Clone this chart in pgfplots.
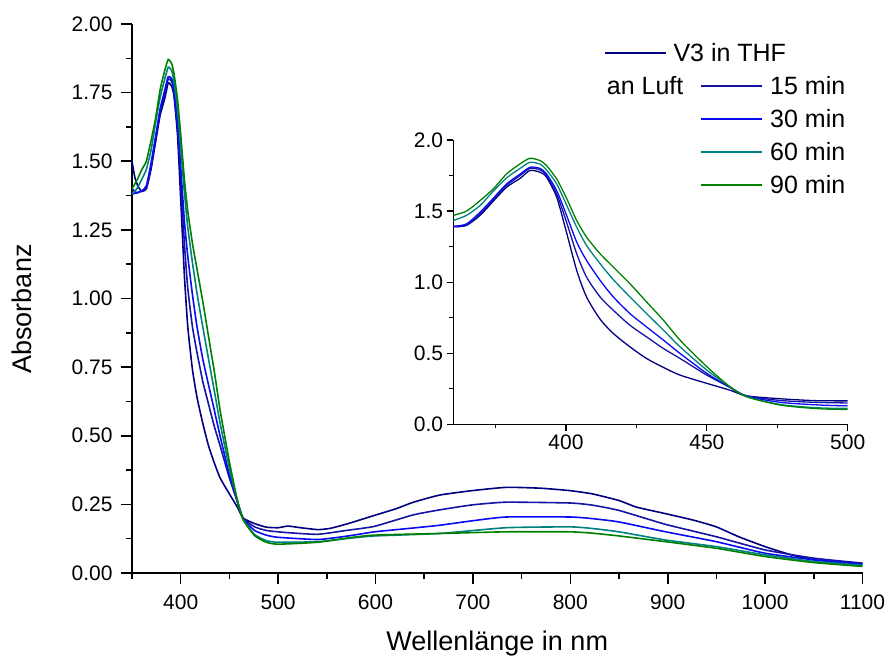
\documentclass[border=0pt]{standalone}
\usepackage{fontspec}
\setmainfont{Liberation Sans}
\usepackage{pgfplots}
\pgfplotsset{compat=1.18}
\usepackage{pgfplotstable}

\definecolor{cV}{RGB}{0,0,128}
\definecolor{cA}{RGB}{20,20,165}
\definecolor{cB}{RGB}{10,10,245}
\definecolor{cC}{RGB}{0,128,128}
\definecolor{cD}{RGB}{0,128,0}

\pgfplotstableread{
nm A
350 1.50
353 1.44
356 1.41
360 1.39
364.7 1.40
369.5 1.47
374.2 1.57
378.9 1.668
383.7 1.73
387.2 1.785
390.8 1.773
393.1 1.738
396.7 1.598
400 1.364
403.8 1.083
407.3 0.896
412.1 0.740
416.8 0.639
422.7 0.545
428.6 0.463
434.6 0.400
440.5 0.346
450 0.288
458.2 0.24
464.1 0.20
475.9 0.18
487.8 0.167
500 0.165
510 0.171
523 0.165
541 0.158
554 0.163
572 0.18
599 0.21
621 0.234
639 0.258
666 0.284
699 0.30
734 0.312
769 0.309
800 0.30
823 0.288
850 0.264
868 0.24
898 0.216
927 0.192
950 0.168
973 0.132
1000 0.096
1027 0.066
1050 0.048
1075 0.04
1100 0.034
}\tV

\pgfplotstableread{
nm A
350 1.40
355 1.385
360 1.392
364.7 1.40
369.5 1.48
374.2 1.58
378.9 1.68
383.7 1.75
387.2 1.80
390.8 1.79
393.1 1.75
396.7 1.62
400 1.434
403.8 1.20
407.3 1.036
412.1 0.896
416.8 0.802
422.7 0.697
428.6 0.615
434.6 0.533
440.5 0.463
450 0.346
458.2 0.26
464.1 0.20
475.9 0.168
487.8 0.155
500 0.15
514 0.146
541 0.141
572 0.156
599 0.17
639 0.212
666 0.23
699 0.248
734 0.258
800 0.255
823 0.247
850 0.228
898 0.177
950 0.132
1000 0.084
1050 0.054
1100 0.036
}\tA

\pgfplotstableread{
nm A
350 1.38
355 1.385
360 1.392
364.7 1.41
369.5 1.492
374.2 1.59
378.9 1.691
383.7 1.76
387.2 1.808
390.8 1.80
393.1 1.761
396.7 1.644
400 1.481
403.8 1.282
407.3 1.153
412.1 1.013
416.8 0.896
422.7 0.779
428.6 0.685
434.6 0.592
440.5 0.498
450 0.358
458.2 0.26
464.1 0.198
475.9 0.155
487.8 0.138
500 0.13
541 0.122
572 0.135
599 0.15
639 0.164
666 0.174
699 0.19
734 0.204
800 0.204
823 0.198
850 0.186
898 0.15
950 0.114
1000 0.072
1050 0.048
1100 0.032
}\tB

\pgfplotstableread{
nm A
350 1.38
355 1.40
360 1.434
364.7 1.47
369.5 1.539
374.2 1.64
378.9 1.733
383.7 1.80
387.2 1.843
390.8 1.83
393.1 1.789
396.7 1.691
400 1.551
403.8 1.387
407.3 1.258
412.1 1.13
416.8 1.018
422.7 0.896
428.6 0.779
434.6 0.662
440.5 0.545
450 0.381
458.2 0.264
464.1 0.195
475.9 0.14
487.8 0.118
500 0.112
541 0.114
572 0.126
599 0.135
666 0.144
734 0.165
800 0.168
823 0.162
850 0.15
898 0.12
950 0.096
1000 0.066
1050 0.042
1100 0.028
}\tC

\pgfplotstableread{
nm A
350 1.40
355 1.43
360 1.469
364.7 1.50
369.5 1.574
374.2 1.656
378.9 1.761
383.7 1.832
387.2 1.871
390.8 1.855
393.1 1.82
396.7 1.726
400 1.598
403.8 1.434
407.3 1.317
412.1 1.20
416.8 1.106
422.7 0.989
428.6 0.861
434.6 0.732
440.5 0.592
450 0.405
458.2 0.264
464.1 0.194
475.9 0.136
487.8 0.112
500 0.105
541 0.112
572 0.128
599 0.138
666 0.144
734 0.15
800 0.15
823 0.145
850 0.135
898 0.114
950 0.09
1000 0.06
1050 0.038
1100 0.024
}\tD

\begin{document}
\begin{tikzpicture}
\useasboundingbox (-132pt,-84pt) rectangle (755pt,573pt);
\begin{axis}[
  at={(0pt,0pt)}, anchor=south west,
  scale only axis, width=730.5pt, height=549pt,
  xmin=350, xmax=1100, ymin=0, ymax=2,
  axis x line*=bottom, axis y line*=left,
  axis line style={line width=1.6pt},
  tick style={line width=1.6pt, black},
  tick align=outside,
  major tick length=11pt, minor tick length=6pt,
  xtick={400,500,600,700,800,900,1000,1100},
  minor xtick={350,450,550,650,750,850,950,1050},
  ytick={0,0.25,0.5,0.75,1,1.25,1.5,1.75,2},
  minor ytick={0.125,0.375,0.625,0.875,1.125,1.375,1.625,1.875},
  /pgf/number format/assume math mode=true,
  tick label style={font=\fontsize{21}{25}\selectfont},
  yticklabel style={xshift=-5pt, /pgf/number format/.cd, fixed, fixed zerofill, precision=2},
  xticklabel style={yshift=-7pt, /pgf/number format/1000 sep={}},
  every axis plot/.append style={line width=1.6pt, smooth, tension=0.3},
]
\addplot[cV, no marks] table[x=nm,y=A]{\tV};
\addplot[cA, no marks] table[x=nm,y=A]{\tA};
\addplot[cB, no marks] table[x=nm,y=A]{\tB};
\addplot[cC, no marks] table[x=nm,y=A]{\tC};
\addplot[cD, no marks] table[x=nm,y=A]{\tD};
\end{axis}

\begin{axis}[
  at={(321.3pt,148.7pt)}, anchor=south west,
  scale only axis, width=394.4pt, height=284.3pt,
  xmin=360, xmax=500, ymin=0, ymax=2,
  axis x line*=bottom, axis y line*=left,
  axis line style={line width=1.3pt},
  tick style={line width=1.3pt, black},
  tick align=outside,
  major tick length=6.7pt, minor tick length=4pt,
  xtick={400,450,500}, minor xtick={375,425,475},
  ytick={0,0.5,1,1.5,2}, minor ytick={0.25,0.75,1.25,1.75},
  /pgf/number format/assume math mode=true,
  tick label style={font=\fontsize{21}{25}\selectfont},
  yticklabel style={/pgf/number format/.cd, fixed, fixed zerofill, precision=1},
  every axis plot/.append style={line width=1.3pt, smooth, tension=0.45},
]
\addplot[cV, no marks] table[x=nm,y=A]{\tV};
\addplot[cA, no marks] table[x=nm,y=A]{\tA};
\addplot[cB, no marks] table[x=nm,y=A]{\tB};
\addplot[cC, no marks] table[x=nm,y=A]{\tC};
\addplot[cD, no marks] table[x=nm,y=A]{\tD};
\end{axis}

\node[anchor=base, font=\fontsize{27}{32}\selectfont] at (365.25pt,-77pt) {Wellenlänge in nm};
\node[rotate=90, font=\fontsize{27}{32}\selectfont] at (-110pt,264pt) {Absorbanz};

\begin{scope}[font=\fontsize{25}{30}\selectfont]
\draw[cV, line width=2pt] (473pt,520pt) -- (534pt,520pt);
\node[anchor=west, inner sep=0pt] at (541.3pt,520pt) {V3 in THF};
\node[anchor=west, inner sep=0pt] at (474.7pt,487pt) {an Luft};
\draw[cA, line width=2pt] (568.7pt,487pt) -- (629.7pt,487pt);
\node[anchor=west, inner sep=0pt] at (638pt,487pt) {15 min};
\draw[cB, line width=2pt] (568.7pt,454pt) -- (629.7pt,454pt);
\node[anchor=west, inner sep=0pt] at (638pt,454pt) {30 min};
\draw[cC, line width=2pt] (568.7pt,421pt) -- (629.7pt,421pt);
\node[anchor=west, inner sep=0pt] at (638pt,421pt) {60 min};
\draw[cD, line width=2pt] (568.7pt,388pt) -- (629.7pt,388pt);
\node[anchor=west, inner sep=0pt] at (638pt,388pt) {90 min};
\end{scope}
\end{tikzpicture}
\end{document}
